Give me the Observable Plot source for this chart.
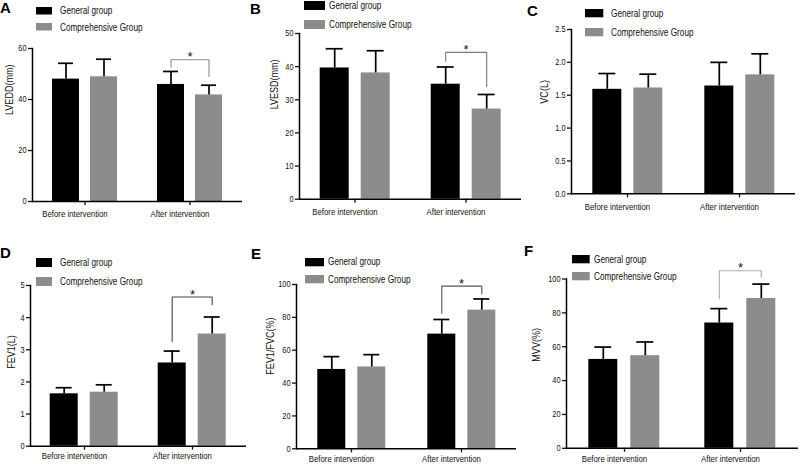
<!DOCTYPE html>
<html><head><meta charset="utf-8">
<script src="https://cdn.jsdelivr.net/npm/d3@7"></script>
<script src="https://cdn.jsdelivr.net/npm/@observablehq/plot@0.6"></script>
<style>
html,body{margin:0;padding:0;background:#fff;}
#fig{position:relative;width:800px;height:464px;overflow:hidden;background:#fff;font-family:"Liberation Sans",Arial,sans-serif;}
.panel{position:absolute;}
.panel svg{overflow:visible;}
.letter{position:absolute;font-family:"Liberation Sans",Arial,sans-serif;font-weight:bold;font-size:15px;line-height:15px;color:#000;}
.lg-swatches{position:absolute;margin:0 !important;font-family:"Liberation Sans",Arial,sans-serif !important;font-size:10px !important;color:#111;}
.lg-swatch{height:var(--row);padding-bottom:0 !important;}
.lg-swatch > svg{margin-right:var(--gap) !important;}
.lg-swatch-label{transform:scaleX(0.82);transform-origin:left center;overflow:visible !important;}
</style></head><body><div id="fig"></div>
<script>
// ---- categories ----
const interventions = ["Before intervention", "After intervention"];
const groups = ["General group", "Comprehensive Group"];
const groupColors = ["#000000", "#8c8c8c"];

// ---- A: LVEDD(mm) ----
const lveddGeneral = [48.0, 45.9];
const lveddGeneralSd = [6.2, 5.1];
const lveddComp = [48.9, 41.8];
const lveddCompSd = [6.9, 3.8];
const lveddBracket = [52.7, 55.6, 49.0];
const lveddTicks = [0, 20, 40, 60];

// ---- B: LVESD(mm) ----
const lvesdGeneral = [39.6, 34.7];
const lvesdGeneralSd = [5.8, 5.2];
const lvesdComp = [38.1, 27.2];
const lvesdCompSd = [6.7, 4.4];
const lvesdBracket = [41.6, 44.3, 34.0];
const lvesdTicks = [0, 10, 20, 30, 40, 50];

// ---- C: VC(L) ----
const vcGeneral = [1.59, 1.64];
const vcGeneralSd = [0.24, 0.36];
const vcComp = [1.61, 1.81];
const vcCompSd = [0.21, 0.32];
const vcTicks = [0, 0.5, 1.0, 1.5, 2.0, 2.5];

// ---- D: FEV1(L) ----
const fev1General = [1.63, 2.59];
const fev1GeneralSd = [0.19, 0.37];
const fev1Comp = [1.68, 3.49];
const fev1CompSd = [0.23, 0.53];
const fev1Bracket = [3.26, 4.64, 4.40];
const fev1Ticks = [0, 1, 2, 3, 4, 5];

// ---- E: FEV1/FVC(%) ----
const ratioGeneral = [48.3, 69.8];
const ratioGeneralSd = [7.8, 8.9];
const ratioComp = [49.8, 84.4];
const ratioCompSd = [7.5, 6.8];
const ratioBracket = [82.5, 99.0, 94.2];
const ratioTicks = [0, 20, 40, 60, 80, 100];

// ---- F: MVV(%) ----
const mvvGeneral = [52.5, 74.0];
const mvvGeneralSd = [7.3, 8.5];
const mvvComp = [54.7, 88.5];
const mvvCompSd = [8.1, 8.5];
const mvvBracket = [88.3, 104.9, 101.0];
const mvvTicks = [0, 20, 40, 60, 80, 100];

const FONT = '"Liberation Sans",Arial,sans-serif';
const CONDENSE = 0.82;

const panels = [
  {letter: "A", letterPos: [0, 0], ylabel: "LVEDD(mm)", general: lveddGeneral, generalSd: lveddGeneralSd, comp: lveddComp, compSd: lveddCompSd,
   bracket: lveddBracket, ticks: lveddTicks, fmt: d3.format("d"), ymax: 60,
   box: [0, 0, 262, 230], margin: [48, 20, 29, 32], ylabelDx: -23, ylabelDy: -10, xPad: 9, bracketColor: "#8a8a8a",
   legend: {left: 36, top: 2.25, sw: 16, sh: 7.5, row: 16.5, gap: 8}},
  {letter: "B", letterPos: [250, 1], ylabel: "LVESD(mm)", general: lvesdGeneral, generalSd: lvesdGeneralSd, comp: lvesdComp, compSd: lvesdCompSd,
   bracket: lvesdBracket, ticks: lvesdTicks, fmt: d3.format("d"), ymax: 50,
   box: [262, 0, 266, 230], margin: [33, 6.3, 31.3, 36.3], ylabelDx: -25, ylabelDy: -7, xPad: 9, bracketColor: "#7a7a7a",
   legend: {left: 304, top: -3.75, sw: 21, sh: 9, row: 18.5, gap: 4.3}},
  {letter: "C", letterPos: [527, 3], ylabel: "VC(L)", general: vcGeneral, generalSd: vcGeneralSd, comp: vcComp, compSd: vcCompSd,
   bracket: null, ticks: vcTicks, fmt: d3.format(".1f"), ymax: 2.5,
   box: [528, 0, 272, 230], margin: [29, 5, 36.7, 42.7], ylabelDx: -27, ylabelDy: -8, xPad: 9, bracketColor: "#777",
   legend: {left: 585, top: 3.5, sw: 18.3, sh: 8.3, row: 19, gap: 7.3}},
  {letter: "D", letterPos: [0, 245], ylabel: "FEV1(L)", general: fev1General, generalSd: fev1GeneralSd, comp: fev1Comp, compSd: fev1CompSd,
   bracket: fev1Bracket, ticks: fev1Ticks, fmt: d3.format("d"), ymax: 5,
   box: [0, 232, 255, 232], margin: [53, 9, 18.3, 29.3], ylabelDx: -19, ylabelDy: 3, xPad: 6.5, bracketColor: "#444",
   legend: {left: 35.7, top: 253.55, sw: 16, sh: 9, row: 18.5, gap: 8.3}},
  {letter: "E", letterPos: [251, 246], ylabel: "FEV1/FVC(%)", general: ratioGeneral, generalSd: ratioGeneralSd, comp: ratioComp, compSd: ratioCompSd,
   bracket: ratioBracket, ticks: ratioTicks, fmt: d3.format("d"), ymax: 100,
   box: [255, 232, 275, 232], margin: [52, 13.3, 15.7, 40.7], ylabelDx: -26, ylabelDy: 8, xPad: 6.5, bracketColor: "#555",
   legend: {left: 305, top: 253.1, sw: 19, sh: 8.3, row: 17.4, gap: 4.3}},
  {letter: "F", letterPos: [524, 243], ylabel: "MVV(%)", general: mvvGeneral, generalSd: mvvGeneralSd, comp: mvvComp, compSd: mvvCompSd,
   bracket: mvvBracket, ticks: mvvTicks, fmt: d3.format("d"), ymax: 100,
   box: [530, 232, 270, 232], margin: [46.5, 1, 16.2, 35.7], ylabelDx: -30, ylabelDy: -2, xPad: 6.5, bracketColor: "#aaa",
   legend: {left: 572.3, top: 250.7, sw: 17.7, sh: 8.3, row: 17, gap: 4.3}}
];

const fig = document.getElementById("fig");

for (const cfg of panels) {
  const rows = [];
  interventions.forEach((iv, i) => {
    rows.push({intervention: iv, group: groups[0], mean: cfg.general[i], sd: cfg.generalSd[i]});
    rows.push({intervention: iv, group: groups[1], mean: cfg.comp[i], sd: cfg.compSd[i]});
  });
  const [bl, bt, bw, bh] = cfg.box;
  const [mt, mr, mb, ml] = cfg.margin;
  const marks = [
    Plot.barY(rows, {fx: "intervention", x: "group", y: "mean", fill: "group"}),
    Plot.ruleX(rows, {fx: "intervention", x: "group", y1: "mean", y2: d => d.mean + d.sd, stroke: "#000", strokeWidth: 1.7}),
    Plot.tickY(rows, {fx: "intervention", x: "group", y: d => d.mean + d.sd, stroke: "#000", strokeWidth: 1.7, insetLeft: 6, insetRight: 6}),
    Plot.ruleY([0], {stroke: "#000", strokeWidth: 1.5}),
    Plot.frame({anchor: "left", facetAnchor: "left", stroke: "#000", strokeWidth: 1.5}),
    Plot.axisY({ticks: cfg.ticks, tickFormat: cfg.fmt, tickSize: 4, tickPadding: 2, label: null, fontSize: 9, strokeWidth: 1.3}),
    Plot.axisFx({anchor: "bottom", tickSize: 4, tickFormat: () => "", label: null, strokeWidth: 1.3}),
    Plot.axisFx({anchor: "bottom", tickSize: 0, tickPadding: cfg.xPad, label: null, dx: -10, fontSize: 9.5}),
    Plot.text([cfg.ylabel], {fx: () => interventions[0], frameAnchor: "left", rotate: -90, dx: cfg.ylabelDx, dy: cfg.ylabelDy, fontSize: 11})
  ];
  if (cfg.bracket) {
    const [left, level, right] = cfg.bracket;
    const pts = [
      {intervention: interventions[1], group: groups[0], v: left},
      {intervention: interventions[1], group: groups[0], v: level},
      {intervention: interventions[1], group: groups[1], v: level},
      {intervention: interventions[1], group: groups[1], v: right}
    ];
    marks.push(Plot.line(pts, {fx: "intervention", x: "group", y: "v", stroke: cfg.bracketColor, strokeWidth: 1.1}));
    marks.push(Plot.text([{intervention: interventions[1], v: level}], {fx: "intervention", y: "v", text: () => "*", lineAnchor: "bottom", dy: 1.5, fontSize: 13, fill: "#111"}));
  }
  const chart = Plot.plot({
    width: bw, height: bh,
    marginTop: mt, marginRight: mr, marginBottom: mb, marginLeft: ml,
    style: {background: "transparent", fontFamily: FONT, color: "#111", overflow: "visible"},
    fx: {domain: interventions, padding: 0, label: null},
    x: {domain: groups, paddingInner: 0.3, paddingOuter: 0.5, axis: null, label: null},
    y: {domain: [0, cfg.ymax], label: null},
    color: {domain: groups, range: groupColors},
    marks
  });
  const wrap = document.createElement("div");
  wrap.className = "panel";
  wrap.style.left = bl + "px";
  wrap.style.top = bt + "px";
  wrap.appendChild(chart);
  fig.appendChild(wrap);

  // condense the axis and label texts (the original uses a narrow sans face)
  chart.querySelectorAll("text").forEach(t => {
    if (t.textContent === "*" || t.textContent === "") return;
    const len = t.getComputedTextLength();
    if (len > 0) {
      t.setAttribute("textLength", (len * CONDENSE).toFixed(2));
      t.setAttribute("lengthAdjust", "spacingAndGlyphs");
    }
  });

  const lg = cfg.legend;
  const leg = Plot.legend({
    color: {type: "ordinal", domain: groups, range: groupColors},
    columns: 1, swatchWidth: lg.sw, swatchHeight: lg.sh, className: "lg"
  });
  leg.style.left = lg.left + "px";
  leg.style.top = lg.top + "px";
  leg.style.setProperty("--row", lg.row + "px");
  leg.style.setProperty("--gap", lg.gap + "px");
  fig.appendChild(leg);

  const letter = document.createElement("div");
  letter.className = "letter";
  letter.textContent = cfg.letter;
  letter.style.left = cfg.letterPos[0] + "px";
  letter.style.top = cfg.letterPos[1] + "px";
  fig.appendChild(letter);
}
</script></body></html>
